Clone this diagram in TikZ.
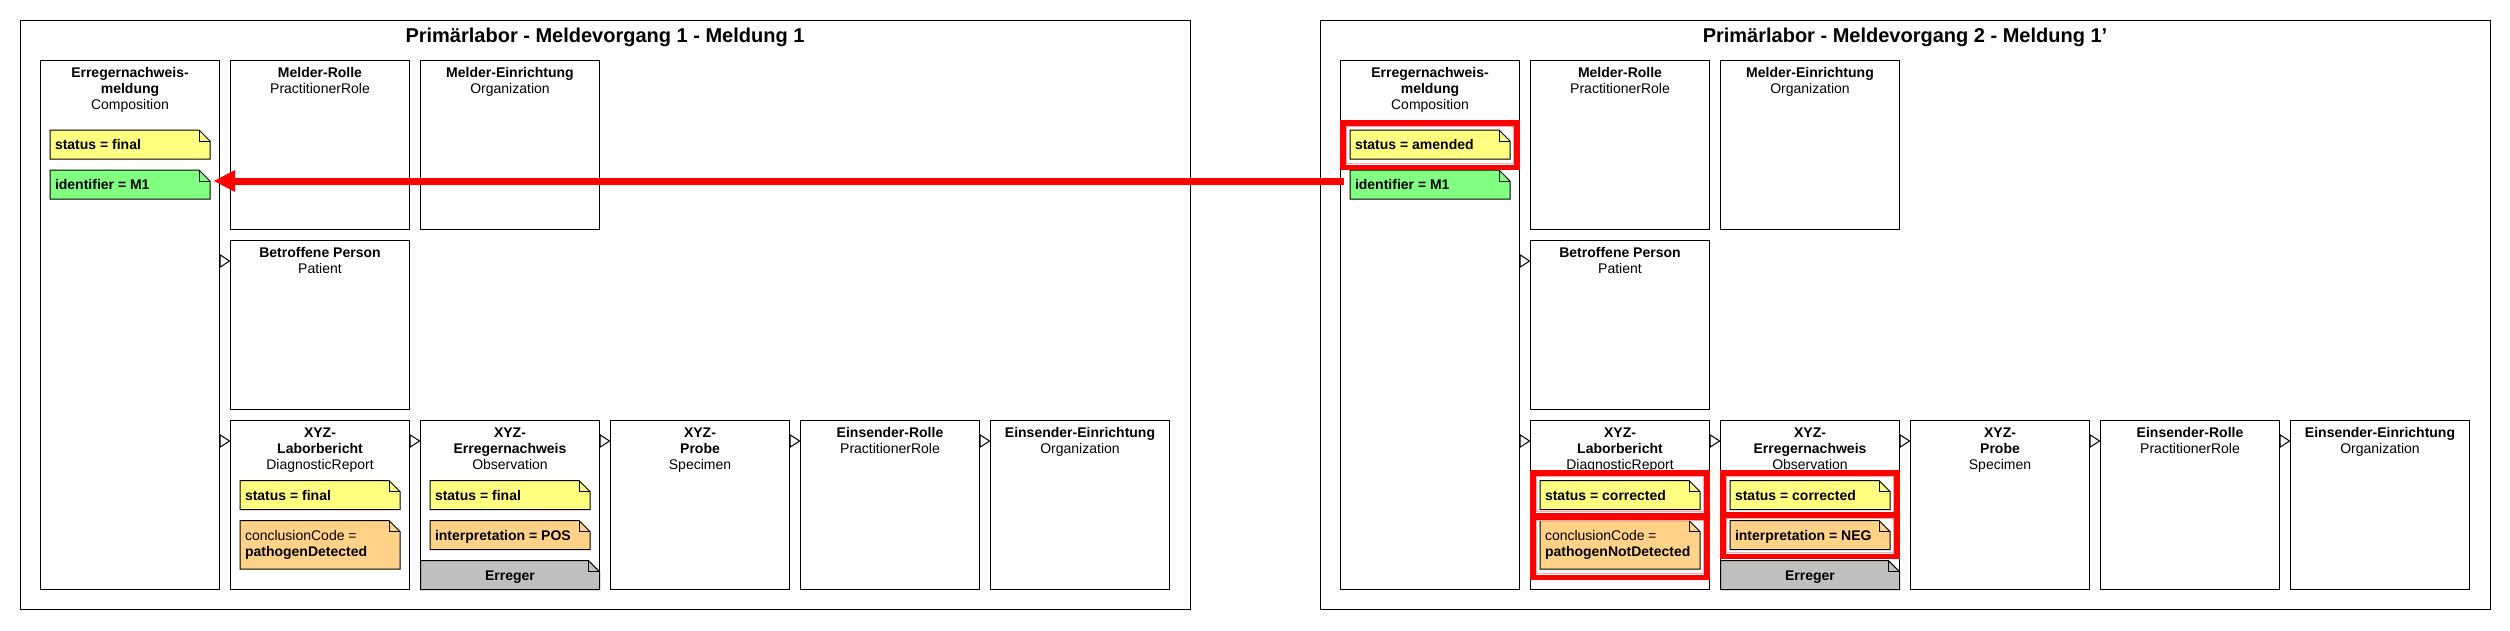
\documentclass[tikz,border=0pt]{standalone}
\usepackage{fontspec}
\setmainfont{Liberation Sans}
\usetikzlibrary{arrows.meta,calc}
\definecolor{noteyellow}{HTML}{FFFF80}
\definecolor{notegreen}{HTML}{80FF80}
\definecolor{noteorange}{HTML}{FFD287}
\definecolor{notegray}{HTML}{C0C0C0}
\definecolor{hlred}{HTML}{FF0000}
\definecolor{hlpink}{HTML}{FFA8A8}

\tikzset{
  panelframe/.style={draw=black, line width=1pt, inner sep=0pt, outer sep=0pt, minimum width=1170pt, minimum height=589pt, anchor=north west},
  resbox/.style={draw=black, line width=1pt, fill=white, inner sep=0pt, outer sep=0pt, minimum width=179pt, minimum height=169pt, anchor=north west},
  hdr/.style={inner sep=0pt, outer sep=0pt, align=center, anchor=north, font=\fontsize{14}{16}\selectfont},
  ntext/.style={inner sep=0pt, outer sep=0pt, align=left, anchor=north west, font=\fontsize{14}{16}\selectfont},
  ctext/.style={inner sep=0pt, outer sep=0pt, anchor=base, font=\fontsize{14}{16}\selectfont},
  ttl/.style={inner sep=0pt, outer sep=0pt, anchor=base, font=\fontsize{20}{24}\selectfont\bfseries},
  notebg/.style={inner sep=0pt, outer sep=0pt, anchor=north west},
  notefr/.style={draw=black, line width=1pt, line join=miter},
  tri/.style={draw=black, line width=1pt, -{Triangle[length=11pt,width=14pt,fill=white]}},
  redfr/.style={draw=hlred, line width=5.5pt},
  pinkfr/.style={draw=hlpink, line width=1.2pt},
  redarrow/.style={draw=hlred, line width=7pt, -{Triangle[length=21pt,width=22pt,line width=0pt]}},
}

% folded-corner note shape: name, x, y, w, h, fill
\newcommand{\mkfold}[6]{%
  \node[notebg, minimum width=#4pt, minimum height=#5pt] (#1) at ({#2},#3) {};
  \draw[notefr, fill=#6] (#1.north west) -- ([xshift=-11pt]#1.north east) -- ([yshift=-11pt]#1.north east) -- (#1.south east) -- (#1.south west) -- cycle;
  \draw[notefr] ([xshift=-11pt]#1.north east) |- ([yshift=-11pt]#1.north east);
}
% note with text
\newcommand{\mknote}[7]{%
  \mkfold{#1}{#2}{#3}{#4}{#5}{#6}
  \node[ntext] (#1T) at ([xshift=5pt,yshift=-6.5pt]#1.north west) {\rule{0pt}{13pt}#7};
}
% one panel: prefix, x offset, title, comp status, lb status, lb code, obs status, interpretation
\newcommand{\mkpanel}[8]{%
  \node[panelframe] (#1frame) at ({#2+20},20) {};
  \node[ttl] (#1title) at ({#2+605},42.7) {#3};
  \node[resbox, minimum height=529.5pt] (#1comp) at ({#2+40.5},60) {};
  \node[resbox] (#1mr) at ({#2+230.5},60) {};
  \node[resbox] (#1me) at ({#2+420.5},60) {};
  \node[resbox] (#1bp) at ({#2+230.5},240) {};
  \node[resbox] (#1lb) at ({#2+230.5},420.5) {};
  \node[resbox] (#1obs) at ({#2+420.5},420.5) {};
  \node[resbox] (#1spec) at ({#2+610.5},420.5) {};
  \node[resbox] (#1er) at ({#2+800.5},420.5) {};
  \node[resbox] (#1ee) at ({#2+990.5},420.5) {};
  \node[hdr] (#1compH) at ([yshift=-4.3pt]#1comp.north) {\rule{0pt}{13pt}\textbf{Erregernachweis-}\\\textbf{meldung}\\Composition};
  \node[hdr] (#1mrH) at ([yshift=-4.3pt]#1mr.north) {\rule{0pt}{13pt}\textbf{Melder-Rolle}\\PractitionerRole};
  \node[hdr] (#1meH) at ([yshift=-4.3pt]#1me.north) {\rule{0pt}{13pt}\textbf{Melder-Einrichtung}\\Organization};
  \node[hdr] (#1bpH) at ([yshift=-4.3pt]#1bp.north) {\rule{0pt}{13pt}\textbf{Betroffene Person}\\Patient};
  \node[hdr] (#1lbH) at ([yshift=-3.8pt]#1lb.north) {\rule{0pt}{13pt}\textbf{XYZ-}\\\textbf{Laborbericht}\\DiagnosticReport};
  \node[hdr] (#1obsH) at ([yshift=-3.8pt]#1obs.north) {\rule{0pt}{13pt}\textbf{XYZ-}\\\textbf{Erregernachweis}\\Observation};
  \node[hdr] (#1specH) at ([yshift=-3.8pt]#1spec.north) {\rule{0pt}{13pt}\textbf{XYZ-}\\\textbf{Probe}\\Specimen};
  \node[hdr] (#1erH) at ([yshift=-3.8pt]#1er.north) {\rule{0pt}{13pt}\textbf{Einsender-Rolle}\\PractitionerRole};
  \node[hdr] (#1eeH) at ([yshift=-3.8pt]#1ee.north) {\rule{0pt}{13pt}\textbf{Einsender-Einrichtung}\\Organization};
  \mknote{#1cs}{#2+50}{130}{160}{29}{noteyellow}{\textbf{#4}}
  \mknote{#1cid}{#2+50}{170}{160}{29}{notegreen}{\textbf{identifier = M1}}
  \mknote{#1ls}{#2+240}{480.5}{160}{29}{noteyellow}{\textbf{#5}}
  \mknote{#1lc}{#2+240}{520.5}{160}{48.5}{noteorange}{conclusionCode =\\\textbf{#6}}
  \mknote{#1os}{#2+430}{480.5}{160}{29}{noteyellow}{\textbf{#7}}
  \mknote{#1oi}{#2+430}{520.5}{160}{29}{noteorange}{\textbf{#8}}
  \mkfold{#1eg}{#2+420.5}{560.7}{179}{28.8}{notegray}
  \node[ctext] (#1egT) at ([yshift=-19.5pt]#1eg.north) {\textbf{Erreger}};
  \coordinate (#1yA) at ({#2},261);
  \coordinate (#1yB) at ({#2},441);
  \draw[tri] (#1comp.east |- #1yA) -- (#1bp.west |- #1yA);
  \draw[tri] (#1comp.east |- #1yB) -- (#1lb.west |- #1yB);
  \draw[tri] (#1lb.east |- #1yB) -- (#1obs.west |- #1yB);
  \draw[tri] (#1obs.east |- #1yB) -- (#1spec.west |- #1yB);
  \draw[tri] (#1spec.east |- #1yB) -- (#1er.west |- #1yB);
  \draw[tri] (#1er.east |- #1yB) -- (#1ee.west |- #1yB);
}

\begin{document}
\begin{tikzpicture}[x=1pt,y=-1pt]
\fill[white] (0,0) rectangle (2510,630);
\useasboundingbox (0,0) rectangle (2510,630);

\mkpanel{L}{0}{Primärlabor - Meldevorgang 1 - Meldung 1}{status = final}{status = final}{pathogenDetected}{status = final}{interpretation = POS}
\mkpanel{R}{1300}{Primärlabor - Meldevorgang 2 - Meldung 1'}{status = amended}{status = corrected}{pathogenNotDetected}{status = corrected}{interpretation = NEG}

% highlight frames (right panel)
\draw[redfr] (1342.75,122.75) rectangle (1516.75,167.25);
\draw[pinkfr] (1346.3,126.3) rectangle (1513.2,163.7);
\draw[redfr] (1532.75,472.75) rectangle (1706.75,515.25);
\draw[pinkfr] (1536.3,476.3) rectangle (1703.2,511.7);
\draw[redfr] (1532.75,516.75) rectangle (1706.75,577.25);
\draw[pinkfr] (1536.3,520.3) rectangle (1703.2,573.7);
\draw[redfr] (1722.75,472.75) rectangle (1896.75,516.25);
\draw[pinkfr] (1726.3,476.3) rectangle (1893.2,512.7);
\draw[redfr] (1722.75,514.75) rectangle (1896.75,556.25);
\draw[pinkfr] (1726.3,518.3) rectangle (1893.2,552.7);

% red arrow from right panel to left panel
\coordinate (arrS) at (1344,181);
\coordinate (arrE) at (214,181);
\draw[redarrow] (arrS) -- (arrE);
\end{tikzpicture}
\end{document}
